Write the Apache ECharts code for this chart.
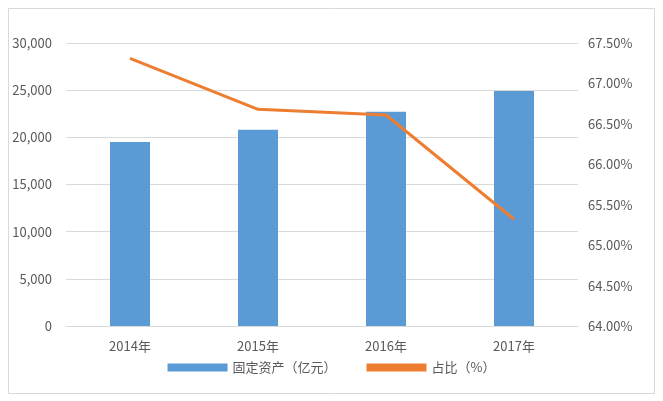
<!DOCTYPE html>
<html>
<head>
<meta charset="utf-8">
<script src="https://cdn.jsdelivr.net/npm/echarts@6/dist/echarts.min.js"></script>
<style>
html, body { margin: 0; padding: 0; background: #fff; }
#chart { width: 663px; height: 401px; }
</style>
</head>
<body>
<div id="chart"></div>
<script>
// 数据
const years = ["2014年", "2015年", "2016年", "2017年"];
const assets = [19500, 20800, 22700, 24900];
const ratio = [67.31, 66.68, 66.61, 65.32];

const chart = echarts.init(document.getElementById("chart"));
const txt = { color: "#595959", fontSize: 13, fontFamily: "Noto Sans CJK SC" };

chart.setOption({
  animation: false,
  graphic: [{
    type: "rect",
    shape: { x: 8.5, y: 8.5, width: 646, height: 385 },
    style: { fill: "none", stroke: "#d9d9d9", lineWidth: 1 }
  }],
  grid: { left: 66, right: 85, top: 43, bottom: 75 },
  legend: {
    bottom: 22,
    itemGap: 30,
    textStyle: txt,
    data: [
      { name: "固定资产（亿元）", icon: "rect", itemStyle: { color: "#5b9bd5" } },
      { name: "占比（%）", icon: "rect" }
    ],
    itemWidth: 60, itemHeight: 8
  },
  xAxis: {
    type: "category",
    data: years,
    axisTick: { show: false },
    axisLine: { lineStyle: { color: "#d9d9d9" } },
    axisLabel: Object.assign({ margin: 14 }, txt)
  },
  yAxis: [{
    type: "value",
    min: 0, max: 30000, interval: 5000,
    axisLabel: Object.assign({ margin: 14 }, txt),
    splitLine: { lineStyle: { color: "#d9d9d9" } }
  }, {
    type: "value",
    min: 64, max: 67.5, interval: 0.5,
    axisLabel: Object.assign({ margin: 10, formatter: v => v.toFixed(2) + "%" }, txt),
    splitLine: { show: false }
  }],
  series: [{
    name: "固定资产（亿元）",
    type: "bar",
    data: assets,
    barWidth: 40,
    itemStyle: { color: "#5b9bd5" }
  }, {
    name: "占比（%）",
    type: "line",
    yAxisIndex: 1,
    data: ratio,
    symbol: "none",
    lineStyle: { color: "#ed7d31", width: 3 },
    itemStyle: { color: "#ed7d31" }
  }]
});
</script>
</body>
</html>
